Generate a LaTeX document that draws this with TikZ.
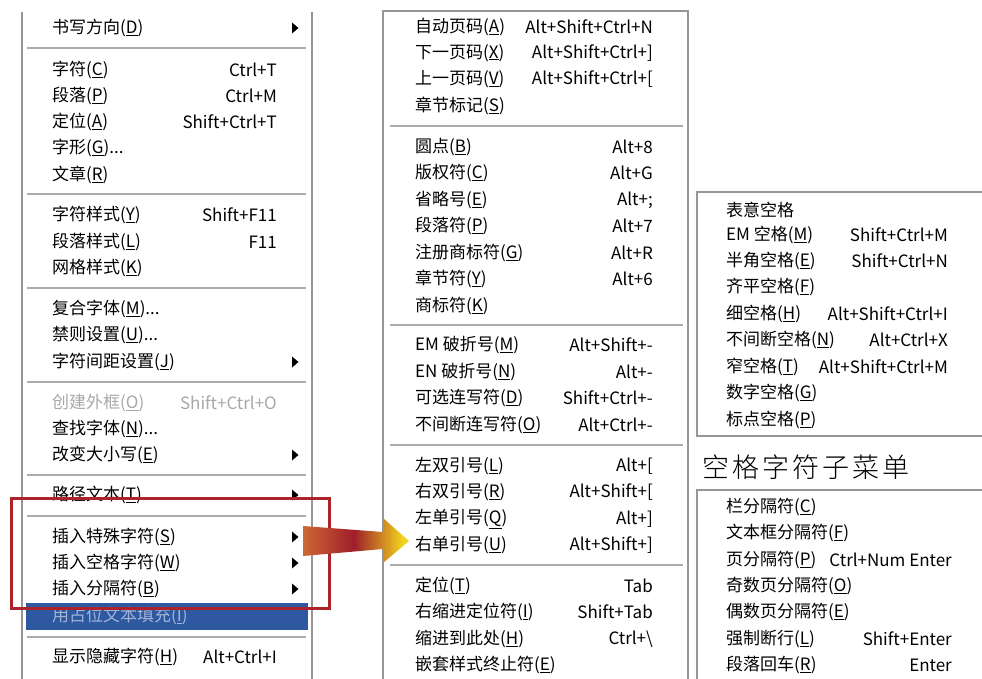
\documentclass[tikz,border=0pt]{standalone}
\usepackage{fontspec}
\setmainfont{Noto Sans CJK SC}
\newfontfamily\capfont{Noto Sans CJK SC Light}
\usetikzlibrary{calc}
\definecolor{sepgray}{RGB}{172,172,172}
\definecolor{brdgray}{RGB}{150,150,150}
\definecolor{boxred}{RGB}{172,36,42}
\definecolor{hiblue}{RGB}{46,88,160}
\definecolor{hitext}{RGB}{160,180,218}
\definecolor{dimtext}{RGB}{168,168,168}
\definecolor{arrA}{RGB}{206,104,52}
\definecolor{arrB}{RGB}{158,30,42}
\definecolor{arrC}{RGB}{242,212,30}
\pgfdeclarehorizontalshading{arrowgrad}{100bp}{color(0bp)=(arrA); color(25bp)=(arrA); color(49bp)=(arrB); color(72bp)=(arrC); color(100bp)=(arrC)}
\newcommand{\mn}[1]{\underline{#1}}
\newcommand{\mfont}{\fontsize{17}{17}\selectfont}
\newcommand{\subarr}[1]{\fill (292,#1-5.5) -- (298.5,#1) -- (292,#1+5.5) -- cycle;}
\begin{document}
\begin{tikzpicture}[x=1pt,y=-1pt,
  item/.style={anchor=west, inner sep=0pt, font=\mfont},
  key/.style={anchor=east, inner sep=0pt, font=\mfont},
  sepline/.style={draw=sepgray, line width=1.4pt},
  border/.style={draw=brdgray, line width=1.4pt},
  dim/.style={text=dimtext}]
\useasboundingbox (0,0) rectangle (982,679);
% ---------- left menu ----------
\draw[border] (22,12) -- (22,679);
\draw[border] (312,12) -- (312,679);
\node[item] (L1) at (52,28) {书写方向(\mn{D})};
\draw[sepline] (27,48) -- (306,48);
\node[item] (L2) at (52,70) {字符(\mn{C})};
\node[key] (K2) at (277,70) {Ctrl+T};
\node[item] (L3) at (52,96) {段落(\mn{P})};
\node[key] (K3) at (277,96) {Ctrl+M};
\node[item] (L4) at (52,122) {定位(\mn{A})};
\node[key] (K4) at (277,122) {Shift+Ctrl+T};
\node[item] (L5) at (52,148) {字形(\mn{G})...};
\node[item] (L6) at (52,175) {文章(\mn{R})};
\draw[sepline] (27,194) -- (306,194);
\node[item] (L7) at (52,215) {字符样式(\mn{Y})};
\node[key] (K7) at (277,215) {Shift+F11};
\node[item] (L8) at (52,242) {段落样式(\mn{L})};
\node[key] (K8) at (277,242) {F11};
\node[item] (L9) at (52,268) {网格样式(\mn{K})};
\draw[sepline] (27,288) -- (306,288);
\node[item] (L10) at (52,309) {复合字体(\mn{M})...};
\node[item] (L11) at (52,335) {禁则设置(\mn{U})...};
\node[item] (L12) at (52,362) {字符间距设置(\mn{J})};
\draw[sepline] (27,382) -- (306,382);
\node[item,dim] (L13) at (52,403) {创建外框(\mn{O})};
\node[key,dim] (K13) at (277,403) {Shift+Ctrl+O};
\node[item] (L14) at (52,429) {查找字体(\mn{N})...};
\node[item] (L15) at (52,455) {改变大小写(\mn{E})};
\draw[sepline] (27,475) -- (306,475);
\node[item] (L16) at (52,495) {路径文本(\mn{T})};
\draw[sepline] (27,516) -- (306,516);
\node[item] (L17) at (52,537) {插入特殊字符(\mn{S})};
\node[item] (L18) at (52,563) {插入空格字符(\mn{W})};
\node[item] (L19) at (52,589) {插入分隔符(\mn{B})};
\node[fill=hiblue, anchor=north west, inner sep=0pt, minimum width=282pt, minimum height=27pt] (hl) at (26,603) {};
\node[item, text=hitext] (L20) at (52,616) {用占位文本填充(\mn{I})};
\draw[sepline] (27,637) -- (306,637);
\node[item] (L21) at (52,657) {显示隐藏字符(\mn{H})};
\node[key] (K21) at (277,657) {Alt+Ctrl+I};
\subarr{28}\subarr{362}\subarr{455}\subarr{495}\subarr{537}\subarr{563}\subarr{589}
% red selection box
\node[draw=boxred, line width=2.6pt, anchor=north west, inner sep=0pt, minimum width=318pt, minimum height=110pt] (sel) at (10,497) {};
% ---------- middle menu ----------
\draw[border] (383,679) -- (383,11) -- (688,11) -- (688,679);
\node[item] (M1) at (415,27) {自动页码(\mn{A})};
\node[key] (N1) at (653,27) {Alt+Shift+Ctrl+N};
\node[item] (M2) at (415,53) {下一页码(\mn{X})};
\node[key] (N2) at (653,53) {Alt+Shift+Ctrl+]};
\node[item] (M3) at (415,79) {上一页码(\mn{V})};
\node[key] (N3) at (653,79) {Alt+Shift+Ctrl+[};
\node[item] (M4) at (415,106) {章节标记(\mn{S})};
\draw[sepline] (390,126) -- (683,126);
\node[item] (M5) at (415,147) {圆点(\mn{B})};
\node[key] (N5) at (653,147) {Alt+8};
\node[item] (M6) at (415,173) {版权符(\mn{C})};
\node[key] (N6) at (653,173) {Alt+G};
\node[item] (M7) at (415,200) {省略号(\mn{E})};
\node[key] (N7) at (653,200) {Alt+;};
\node[item] (M8) at (415,226) {段落符(\mn{P})};
\node[key] (N8) at (653,226) {Alt+7};
\node[item] (M9) at (415,253) {注册商标符(\mn{G})};
\node[key] (N9) at (653,253) {Alt+R};
\node[item] (M10) at (415,279) {章节符(\mn{Y})};
\node[key] (N10) at (653,279) {Alt+6};
\node[item] (M11) at (415,306) {商标符(\mn{K})};
\draw[sepline] (390,325) -- (683,325);
\node[item] (M12) at (415,345) {EM 破折号(\mn{M})};
\node[key] (N12) at (653,345) {Alt+Shift+-};
\node[item] (M13) at (415,372) {EN 破折号(\mn{N})};
\node[key] (N13) at (653,372) {Alt+-};
\node[item] (M14) at (415,398) {可选连写符(\mn{D})};
\node[key] (N14) at (653,398) {Shift+Ctrl+-};
\node[item] (M15) at (415,425) {不间断连写符(\mn{O})};
\node[key] (N15) at (653,425) {Alt+Ctrl+-};
\draw[sepline] (390,445) -- (683,445);
\node[item] (M16) at (415,466) {左双引号(\mn{L})};
\node[key] (N16) at (653,466) {Alt+[};
\node[item] (M17) at (415,492) {右双引号(\mn{R})};
\node[key] (N17) at (653,492) {Alt+Shift+[};
\node[item] (M18) at (415,519) {左单引号(\mn{Q})};
\node[key] (N18) at (653,519) {Alt+]};
\node[item] (M19) at (415,545) {右单引号(\mn{U})};
\node[key] (N19) at (653,545) {Alt+Shift+]};
\draw[sepline] (390,565) -- (683,565);
\node[item] (M20) at (415,586) {定位(\mn{T})};
\node[key] (N20) at (653,586) {Tab};
\node[item] (M21) at (415,612) {右缩进定位符(\mn{I})};
\node[key] (N21) at (653,612) {Shift+Tab};
\node[item] (M22) at (415,639) {缩进到此处(\mn{H})};
\node[key] (N22) at (653,639) {Ctrl+\textbackslash};
\node[item] (M23) at (415,665) {嵌套样式终止符(\mn{E})};
% ---------- gradient arrow ----------
\coordinate (as) at (303,541);
\coordinate (at) at (409,541);
\path[shading=arrowgrad]
  ($(as)+(0,-15)$) -- ($(at)+(-26,-9)$) -- ($(at)+(-26,-23)$) -- (at)
  -- ($(at)+(-26,22)$) -- ($(at)+(-26,8)$) -- ($(as)+(0,15)$) -- cycle;
% ---------- right box 1 ----------
\draw[border] (982,192) -- (697,192) -- (697,436) -- (982,436);
\node[item] (R1) at (726,210) {表意空格};
\node[item] (R2) at (726,235) {EM 空格(\mn{M})};
\node[key] (Q2) at (948,235) {Shift+Ctrl+M};
\node[item] (R3) at (726,261) {半角空格(\mn{E})};
\node[key] (Q3) at (948,261) {Shift+Ctrl+N};
\node[item] (R4) at (726,287) {齐平空格(\mn{F})};
\node[item] (R5) at (726,314) {细空格(\mn{H})};
\node[key] (Q5) at (948,314) {Alt+Shift+Ctrl+I};
\node[item] (R6) at (726,340) {不间断空格(\mn{N})};
\node[key] (Q6) at (948,340) {Alt+Ctrl+X};
\node[item] (R7) at (726,367) {窄空格(\mn{T})};
\node[key] (Q7) at (948,367) {Alt+Shift+Ctrl+M};
\node[item] (R8) at (726,393) {数字空格(\mn{G})};
\node[item] (R9) at (726,420) {标点空格(\mn{P})};
\node[anchor=west, inner sep=0pt, font=\capfont\fontsize{27}{27}\selectfont] (cap) at (702,467) {空\kern3pt格\kern3pt字\kern3pt符\kern3pt子\kern3pt菜\kern3pt单};
% ---------- right box 2 ----------
\draw[border] (982,490) -- (697,490) -- (697,679);
\node[item] (S1) at (726,507) {栏分隔符(\mn{C})};
\node[item] (S2) at (726,533) {文本框分隔符(\mn{F})};
\node[item] (S3) at (726,560) {页分隔符(\mn{P})};
\node[key] (T3) at (952,560) {Ctrl+Num Enter};
\node[item] (S4) at (726,586) {奇数页分隔符(\mn{O})};
\node[item] (S5) at (726,612) {偶数页分隔符(\mn{E})};
\node[item] (S6) at (726,639) {强制断行(\mn{L})};
\node[key] (T6) at (952,639) {Shift+Enter};
\node[item] (S7) at (726,665) {段落回车(\mn{R})};
\node[key] (T7) at (952,665) {Enter};
\end{tikzpicture}
\end{document}
